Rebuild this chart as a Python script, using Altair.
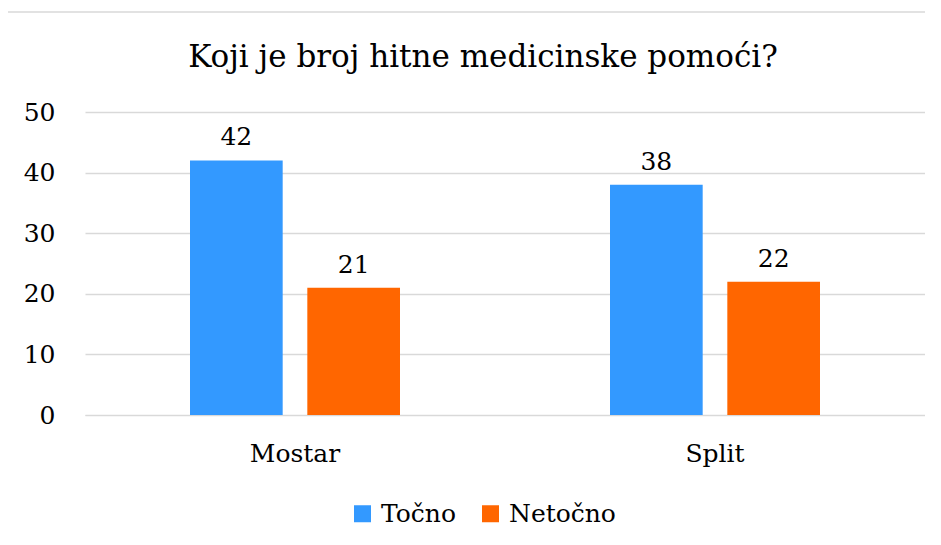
import altair as alt
import pandas as pd

cities = ["Mostar", "Split"]
series = ["Točno", "Netočno"]
tocno = [42, 38]
netocno = [21, 22]
colors = ["#3399FF", "#FF6600"]
title_text = "Koji je broj hitne medicinske pomoći?"
y_ticks = [0, 10, 20, 30, 40, 50]

rows = []
for i, c in enumerate(cities):
    rows.append({"grad": c, "odgovor": series[0], "broj": tocno[i]})
    rows.append({"grad": c, "odgovor": series[1], "broj": netocno[i]})
df = pd.DataFrame(rows)

FONT = "DejaVu Serif"
GRID = "#d9d9d9"
FS = 25

x = alt.X(
    "grad:N", sort=cities, title=None,
    scale=alt.Scale(paddingInner=0.5, paddingOuter=0.25),
    axis=alt.Axis(labelAngle=0, labelFontSize=FS, labelPadding=26, domainColor=GRID,
                  ticks=False, labelColor="black", labelFont=FONT),
)
xo = alt.XOffset("odgovor:N", sort=series, scale=alt.Scale(paddingInner=0.21, paddingOuter=0))
y = alt.Y(
    "broj:Q", title=None,
    scale=alt.Scale(domain=[0, 50]),
    axis=alt.Axis(values=y_ticks, labelFontSize=FS, labelPadding=30, domain=False, ticks=False,
                  gridColor=GRID, gridWidth=1.5, labelColor="black", labelFont=FONT),
)
color = alt.Color(
    "odgovor:N", sort=series,
    scale=alt.Scale(domain=series, range=colors),
    legend=alt.Legend(
        title=None, orient="none", legendX=265, legendY=389, direction="horizontal",
        symbolType="square", symbolSize=289, symbolStrokeWidth=0, labelFontSize=FS,
        labelFont=FONT, labelColor="black", labelOffset=6, columnPadding=22, padding=0,
    ),
)

bars = alt.Chart(df).mark_bar().encode(x=x, xOffset=xo, y=y, color=color)
labels = alt.Chart(df).mark_text(
    baseline="alphabetic", dy=-15, fontSize=FS, font=FONT, color="black"
).encode(x=x, xOffset=xo, y=y, text="broj:Q")

border = alt.Chart(pd.DataFrame({"a": [0]})).mark_rect(
    fill=None, stroke=GRID, strokeWidth=1.5
).encode(x=alt.value(-78), x2=alt.value(1000), y=alt.value(-100), y2=alt.value(700))

chart = alt.layer(border, bars, labels).properties(
    width=840, height=303,
    title=alt.TitleParams(title_text, fontSize=31, font=FONT, fontWeight="normal",
                          anchor="middle", frame="group", dx=-22, dy=87, offset=0,
                          baseline="alphabetic", color="black"),
    autosize=alt.AutoSizeParams(type="none"),
    padding={"left": 77, "top": 104, "right": 0, "bottom": 122},
).configure_view(stroke=None)

chart.save("out.html", embed_options={"renderer": "svg", "actions": False})
